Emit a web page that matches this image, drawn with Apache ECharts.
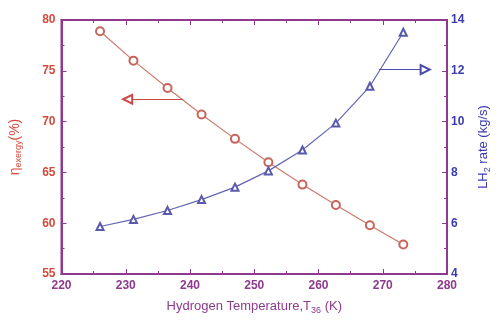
<!DOCTYPE html>
<html>
<head>
<meta charset="utf-8">
<script src="https://cdn.jsdelivr.net/npm/echarts@6/dist/echarts.min.js"></script>
<style>
  html, body { margin: 0; padding: 0; background: #fff; }
  #chart { width: 500px; height: 320px; }
</style>
</head>
<body>
<div id="chart"></div>
<script>
// values
var temps = [226, 231.2, 236.5, 241.8, 247, 252.2, 257.5, 262.7, 268, 273.2];
var exergy = [78.9, 76.0, 73.3, 70.7, 68.3, 66.0, 63.8, 61.8, 59.8, 57.9];
var lh2Rate = [5.87, 6.15, 6.5, 6.93, 7.42, 8.06, 8.88, 9.94, 11.39, 13.52];
// arrow annotations [x0, x1, y]
var exergyArrow = [238.9, 230.3, 72.2];
var rateArrow = [269.4, 276.6, 12.05];

var purple = '#8e3a8e';
var red = '#d24b3e';
var blue = '#3b3bb0';

function pairs(xs, ys) {
    return xs.map(function (x, i) { return [x, ys[i]]; });
}

var chart = echarts.init(document.getElementById('chart'));
var option = {
    animation: false,
    textStyle: { fontFamily: 'Liberation Sans, Arial, sans-serif' },
    grid: {
        left: 60, right: 43, top: 20, bottom: 43,
        show: true, borderColor: purple, borderWidth: 2
    },
    xAxis: [
        {
            type: 'value', min: 220, max: 280, interval: 10,
            name: '{n|Hydrogen Temperature,T}{s|36}{n| (K)}',
            nameLocation: 'middle', nameGap: 24,
            nameTextStyle: {
                rich: {
                    n: { color: purple, fontSize: 13 },
                    s: { color: purple, fontSize: 9, verticalAlign: 'bottom', padding: [8, 0, 0, 0] }
                }
            },
            axisLine: { lineStyle: { color: purple, width: 2 } },
            axisTick: { inside: true, length: 5, lineStyle: { color: purple } },
            minorTick: { show: true, splitNumber: 2, length: 3, lineStyle: { color: purple } },
            axisLabel: { color: purple, fontWeight: 'bold', fontSize: 12, margin: 6 },
            splitLine: { show: false }
        },
        {
            type: 'value', min: 220, max: 280, interval: 10, position: 'top',
            axisLine: { lineStyle: { color: purple, width: 2 } },
            axisTick: { inside: true, length: 5, lineStyle: { color: purple } },
            minorTick: { show: true, splitNumber: 2, length: 3, lineStyle: { color: purple } },
            axisLabel: { show: false },
            splitLine: { show: false }
        }
    ],
    yAxis: [
        {
            type: 'value', min: 55, max: 80, interval: 5,
            name: '{n|η}{s|exergy}{n|(%)}',
            nameLocation: 'middle', nameGap: 38,
            nameTextStyle: {
                rich: {
                    n: { color: red, fontSize: 14 },
                    s: { color: red, fontSize: 9, verticalAlign: 'bottom', padding: [8, 0, 0, 0] }
                }
            },
            axisLine: { lineStyle: { color: purple, width: 2 } },
            axisTick: { inside: true, length: 5, lineStyle: { color: purple } },
            minorTick: { show: true, splitNumber: 2, length: 3, lineStyle: { color: purple } },
            axisLabel: { color: red, fontWeight: 'bold', fontSize: 12, margin: 6 },
            splitLine: { show: false }
        },
        {
            type: 'value', min: 4, max: 14, interval: 2, position: 'right',
            name: '{n|LH}{s|2}{n| rate (kg/s)}',
            nameLocation: 'middle', nameGap: 28, nameRotate: 90,
            nameTextStyle: {
                rich: {
                    n: { color: blue, fontSize: 13 },
                    s: { color: blue, fontSize: 9, verticalAlign: 'bottom', padding: [8, 0, 0, 0] }
                }
            },
            axisLine: { lineStyle: { color: purple, width: 2 } },
            axisTick: { inside: true, length: 5, lineStyle: { color: purple } },
            minorTick: { show: true, splitNumber: 2, length: 3, lineStyle: { color: purple } },
            axisLabel: { color: blue, fontWeight: 'bold', fontSize: 12, margin: 4 },
            splitLine: { show: false }
        }
    ],
    series: [
        {
            type: 'line', yAxisIndex: 0,
            data: pairs(temps, exergy),
            symbol: 'emptyCircle', symbolSize: 8,
            lineStyle: { color: '#cc7a6e', width: 1.2 },
            itemStyle: { color: '#c8645a', borderWidth: 1 },
            markLine: {
                silent: true,
                symbol: ['none', 'emptyTriangle'], symbolSize: 9,
                label: { show: false },
                lineStyle: { color: '#cc4a44', width: 1.2, type: 'solid' },
                data: [[
                    { coord: [exergyArrow[0], exergyArrow[2]] },
                    { coord: [exergyArrow[1], exergyArrow[2]] }
                ]]
            }
        },
        {
            type: 'line', yAxisIndex: 1,
            data: pairs(temps, lh2Rate),
            symbol: 'emptyTriangle', symbolSize: 7,
            lineStyle: { color: '#6464b4', width: 1.2 },
            itemStyle: { color: '#5a5aaa', borderWidth: 1 },
            markLine: {
                silent: true,
                symbol: ['none', 'emptyTriangle'], symbolSize: 9,
                label: { show: false },
                lineStyle: { color: '#4a4aaa', width: 1.2, type: 'solid' },
                data: [[
                    { coord: [rateArrow[0], rateArrow[2]] },
                    { coord: [rateArrow[1], rateArrow[2]] }
                ]]
            }
        }
    ]
};
chart.setOption(option);
</script>
</body>
</html>
